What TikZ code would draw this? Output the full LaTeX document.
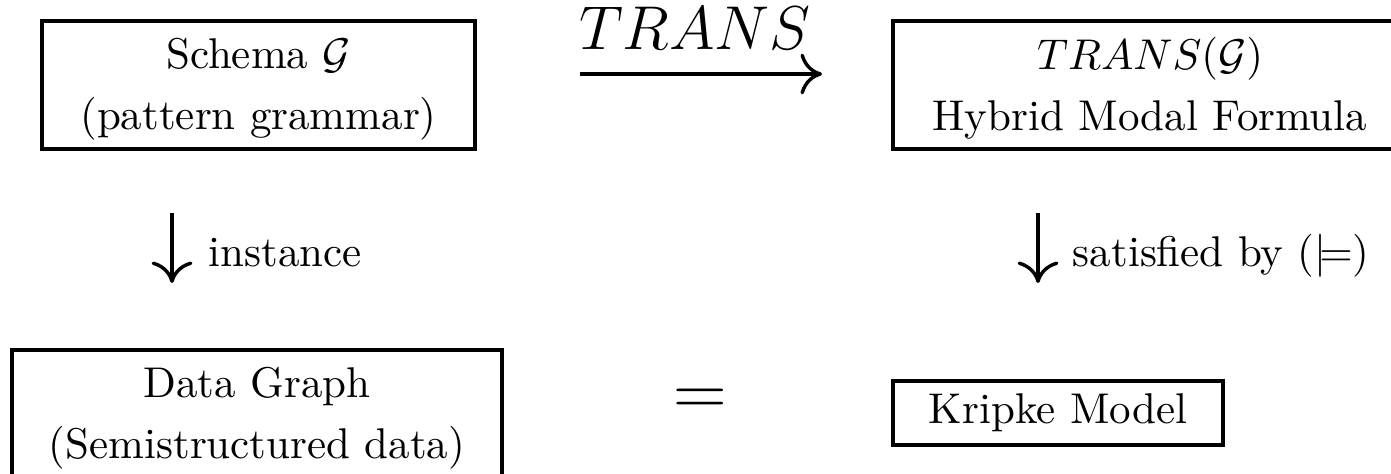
\documentclass[tikz,border=0pt]{standalone}
\usetikzlibrary{arrows.meta}
\newdimen\pxu \pxu=0.23256pt
\begin{document}
\begin{tikzpicture}[x=0.23256pt, y=-0.23256pt,
  box/.style={draw, line width=0.85pt, inner sep=0pt, align=center,
    font=\fontsize{10}{14.2}\selectfont},
  twoline/.style={box, text depth=0.6pt, minimum height=128\pxu},
  lbl/.style={inner sep=0pt, font=\fontsize{10}{12}\selectfont},
  cmarrow/.style={line width=0.8pt,
    -{Computer Modern Rightarrow[length=5pt,width=9.5pt]}}]
\clip (0,0) rectangle (1391,474);
% boxes
\node[twoline, minimum width=433\pxu] (schema) at (258.5,85)
  {Schema $\mathcal{G}$\\(pattern grammar)};
\node[twoline, minimum width=514\pxu] (formula) at (1150,85)
  {$TRANS(\mathcal{G})$\\Hybrid Modal Formula};
\node[twoline, minimum width=490\pxu] (data) at (257,414)
  {Data Graph\\(Semistructured data)};
\node[box, minimum width=330\pxu, minimum height=64\pxu] (kripke) at (1058,413)
  {Kripke Model};
% TRANS arrow
\coordinate (ta) at (580,74);
\coordinate (tb) at (822,74);
\draw[cmarrow] (ta) -- (tb);
\node[lbl, anchor=base, font=\fontsize{13.4}{16}\selectfont] (translbl) at (695,50) {$TRANS$};
% instance arrow
\coordinate (ia) at (172,213);
\coordinate (ib) at (172,283);
\draw[cmarrow] (ia) -- (ib);
\node[lbl, anchor=base west] (inst) at (208,267) {instance};
% satisfied arrow
\coordinate (sa) at (1038,213);
\coordinate (sb) at (1038,283);
\draw[cmarrow] (sa) -- (sb);
\node[lbl, anchor=base west] (sat) at (1072,267) {satisfied by ($\models$)};
% equality
\node[lbl, font=\LARGE] (eq) at (700,402) {$=$};
\end{tikzpicture}
\end{document}
